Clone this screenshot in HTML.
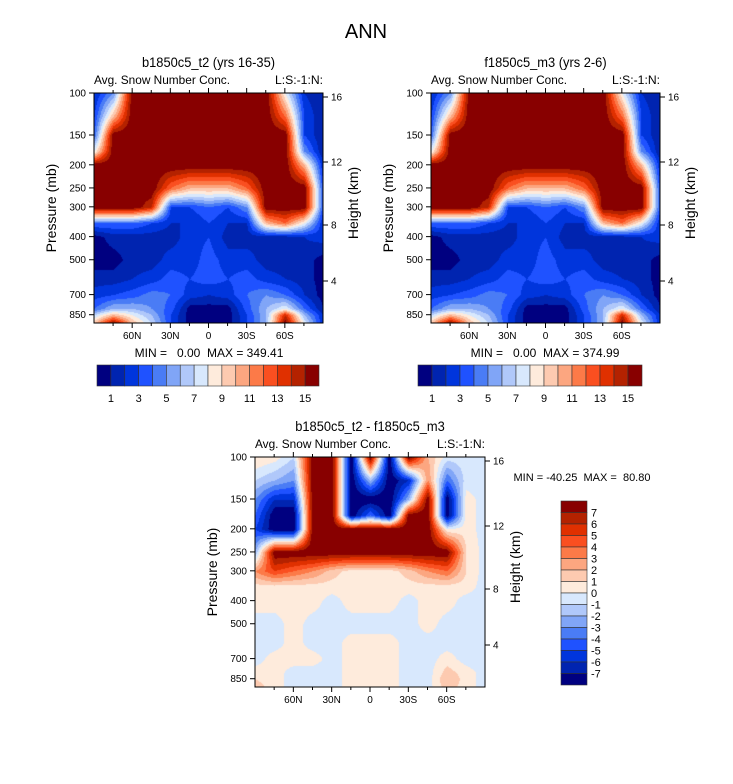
<!DOCTYPE html>
<html><head><meta charset="utf-8"><style>
body{margin:0;background:#fff;width:733px;height:784px;overflow:hidden;position:relative;font-family:"Liberation Sans",sans-serif}
canvas{position:absolute}
svg{position:absolute;left:0;top:0}
text{white-space:pre}
</style></head><body>
<canvas id="c1" style="left:94px;top:93px" width="229" height="230"></canvas>
<canvas id="c2" style="left:431px;top:93px" width="229" height="230"></canvas>
<canvas id="c3" style="left:255px;top:457px" width="230" height="230"></canvas>
<svg id="s" width="733" height="784"></svg>
<script>
const lats=[90,75,60,45,30,15,0,-15,-30,-45,-60,-75,-90];
const levels=[100,125,150,175,200,250,300,350,400,500,600,700,800,850,925];
const colors=['#000080','#0024b0','#0035dc','#1f52ff','#4a7cf5','#80a5f7','#b0c8fa','#d8e8fd','#feebdc','#fdcab0','#fca680','#fc7a48','#fa4f20','#e03000','#b42200','#880000'];
const p1=[
[2,5,16,16,16,16,16,16,16,16,8,2,1],
[3,10,16,16,16,16,16,16,16,16,12,3,1],
[4,16,16,16,16,16,16,16,16,16,16,3,1],
[8,16,16,16,16,16,16,16,16,16,16,5,1],
[16,16,16,16,16,16,16,16,16,16,16,10,2],
[16,16,16,16,12,10,10,10,12,16,16,16,3],
[16,16,16,14,3,3,4,3,5,16,16,16,3],
[4,4,4,3,2,2,3,2,2,10,12,8,2],
[0.5,1.5,1.5,1.5,1.5,2.5,3,1.5,1.5,1.5,1.5,2,2.5],
[0.5,0.5,1.5,1.5,2.5,2.5,3.5,2.5,2.5,1.5,1.5,1.5,0.5],
[1.5,1.5,2,2.5,3.5,3,3.5,3,3.5,2.5,2,1.5,0.5],
[2.5,3,3.5,4.5,4,2.5,2,2.5,4,5,4,2,0.5],
[4,6,6,5,3.5,0.5,0.5,0.5,3.5,6,8,4,1],
[7,10,8,6,3,0.5,0.5,0.5,3,6,14,6,2],
[10,16,10,7,3,0.5,0.5,0.5,3,6,16,8,2]];
const p2=[
[2,5,16,16,16,16,16,16,16,16,8,2,1],
[3,10,16,16,16,16,16,16,16,16,12,3,1],
[4,16,16,16,16,16,16,16,16,16,16,3,1],
[8,16,16,16,16,16,16,16,16,16,16,5,1],
[16,16,16,16,16,16,16,16,16,16,16,10,2],
[16,16,16,16,12,10,10,10,12,16,16,16,3],
[16,16,16,14,3,3,4,3,5,16,16,16,3],
[4,4,4,3,2,2,3,2,2,10,12,8,2],
[0.5,1.5,1.5,1.5,1.5,2.5,3,1.5,1.5,1.5,1.5,2,2.5],
[0.5,0.5,1.5,1.5,2.5,2.5,3.5,2.5,2.5,1.5,1.5,1.5,0.5],
[1.5,1.5,2,2.5,3.5,3,3.5,3,3.5,2.5,2,1.5,0.5],
[2.5,3,3.5,4.5,4,2.5,2,2.5,4,5,4,2,0.5],
[4,6,6,5,3.5,0.5,0.5,0.5,3.5,6,8,4,1],
[7,10,8,6,3,0.5,0.5,0.5,3,6,14,6,2],
[10,16,10,7,3,0.5,0.5,0.5,3,6,16,8,2]];
const p3=[
[1,0.5,-1,8,8,-8,8,-8,8,2,-0.5,-0.5,-0.5],
[-1,-2,-3,8,8,-8,-2,-8,-6,3,-4,-0.5,-0.5],
[-3,-6,-6,8,8,-8,-8,-8,-2,8,-8,0.5,-0.5],
[-4,-8,-8,8,8,-8,-4,-8,8,8,-8,0.5,-0.5],
[-5,-8,-8,8,8,8,8,8,8,8,0,0.5,-0.5],
[-2,8,8,8,8,8,8,8,8,8,8,1,-0.5],
[3,5,4,3,1.5,0.5,0.5,0.5,1.5,3,4,1,-0.5],
[0.5,0.5,0.5,0.5,0.5,0.5,0.5,0.5,0.5,0.5,0.5,0.5,-0.5],
[0.5,0.5,0.5,0.5,-0.5,0.5,0.5,0.5,-0.5,0.5,0.5,-0.5,-0.5],
[-0.5,-0.5,0.5,-0.5,-0.5,-0.5,-0.5,-0.5,-0.5,0.5,-0.5,-0.5,-0.5],
[-0.5,-0.5,0.5,-0.5,-0.5,0.5,0.5,0.5,-0.5,-0.5,-0.5,-0.5,-0.5],
[-0.5,0.5,0.5,0.5,-0.5,0.5,0.5,0.5,-0.5,-0.5,0.5,-0.5,-0.5],
[0.5,0.5,-0.5,-0.5,-0.5,0.5,0.5,0.5,-0.5,-0.5,1.5,0.5,-0.5],
[1,0.5,-0.5,-0.5,-0.5,0.5,0.5,0.5,-0.5,-0.5,2,0.5,-0.5],
[1.5,0.5,-0.5,-0.5,-0.5,0.5,0.5,0.5,-0.5,-0.5,1.5,0.5,-0.5]];
const pTicks=[100,150,200,250,300,400,500,700,850];
const latTicks=[60,30,0,-30,-60];
const latLabels=['60N','30N','0','30S','60S'];
const hTicks=[16,12,8,4];

const K=103.6;
function yOf(p){return K*Math.log(p/100);}
function xOf(lat,w){return (90-lat)/180*w;}
function hexRGB(h){return [parseInt(h.substr(1,2),16),parseInt(h.substr(3,2),16),parseInt(h.substr(5,2),16)];}
const rgb=colors.map(hexRGB);
function draw(id,data,offset){
  const c=document.getElementById(id),ctx=c.getContext('2d'),W=c.width,H=c.height;
  const img=ctx.createImageData(W,H);
  const ly=levels.map(yOf), lx=lats.map(l=>xOf(l,W));
  for(let y=0;y<H;y++){
    let j=0;while(j<ly.length-2&&ly[j+1]<y)j++;
    let ty=Math.min(1,Math.max(0,(y-ly[j])/(ly[j+1]-ly[j])));
    for(let x=0;x<W;x++){
      let i=0;while(i<lx.length-2&&lx[i+1]<x)i++;
      let tx=Math.min(1,Math.max(0,(x-lx[i])/(lx[i+1]-lx[i])));
      const v=(data[j][i]*(1-tx)+data[j][i+1]*tx)*(1-ty)+(data[j+1][i]*(1-tx)+data[j+1][i+1]*tx)*ty;
      let k=Math.floor(v+offset);k=Math.max(0,Math.min(15,k));
      const o=(y*W+x)*4;img.data[o]=rgb[k][0];img.data[o+1]=rgb[k][1];img.data[o+2]=rgb[k][2];img.data[o+3]=255;
    }
  }
  ctx.putImageData(img,0,0);
}
draw('c1',p1,0);draw('c2',p2,0);draw('c3',p3,8);

const S=document.getElementById('s');const NS='http://www.w3.org/2000/svg';
function el(t,a,txt){const e=document.createElementNS(NS,t);for(const k in a)e.setAttribute(k,a[k]);if(txt!==undefined)e.textContent=txt;S.appendChild(e);return e;}
function txt(x,y,s,size,anchor,name,extra){const e=el('text',Object.assign({x:x,y:y,'font-size':size,'text-anchor':anchor||'middle','font-family':'Liberation Sans, sans-serif'},extra||{}),s);

return e;}

txt(366,38,'ANN',20,'middle','main-title');

const hPos={16:97,12:162,8:225,4:281};
function hY(h){return hPos[h]-93;}
function panel(X,Y,W,H,title,pre){
  const cx=X+W/2;
  txt(cx,Y-26,title,14,'middle',pre+'-title',{transform:`translate(${cx},0) scale(0.92,1) translate(${-cx},0)`});
  txt(X,Y-9,'Avg. Snow Number Conc.',12,'start',pre+'-subtitle-left',{textLength:136,lengthAdjust:'spacingAndGlyphs'});
  txt(X+W,Y-9,'L:S:-1:N:',12,'end',pre+'-subtitle-right',{textLength:48,lengthAdjust:'spacingAndGlyphs'});
  const r=el('rect',{x:X,y:Y,width:W,height:H,fill:'none',stroke:'#000','stroke-width':1});
  
  
  pTicks.forEach(p=>{const y=Y+yOf(p);
    el('line',{x1:X-5,x2:X,y1:y,y2:y,stroke:'#000'});
    txt(X-8,y+3.5,String(p),10,'end',pre+'-ytick-'+p);});
  for(let lat=-75;lat<=75;lat+=15){const x=X+xOf(lat,W);const maj=lat%30===0;
    el('line',{x1:x,x2:x,y1:Y+H,y2:Y+H+(maj?5:3),stroke:'#000'});
    el('line',{x1:x,x2:x,y1:Y,y2:Y-(maj?5:3),stroke:'#000'});}
  latTicks.forEach((l,i)=>txt(X+xOf(l,W),Y+H+16,latLabels[i],10,'middle',pre+'-xtick-'+latLabels[i]));
  hTicks.forEach(h=>{const y=Y+hY(h);
    el('line',{x1:X+W,x2:X+W+5,y1:y,y2:y,stroke:'#000'});
    txt(X+W+8,y+3.5,String(h),10,'start',pre+'-htick-'+h);});
  txt(0,0,'Pressure (mb)',14,'middle',pre+'-y-axis-title',{transform:`translate(${X-38},${Y+H/2}) rotate(-90)`});
  txt(0,0,'Height (km)',14,'middle',pre+'-height-axis-title',{transform:`translate(${X+W+35},${Y+H/2-5}) rotate(-90)`});
}
panel(94,93,229,230,'b1850c5_t2 (yrs 16-35)','panel1');
panel(431,93,229,230,'f1850c5_m3 (yrs 2-6)','panel2');
panel(255,457,230,230,'b1850c5_t2 - f1850c5_m3','diff');
txt(209,357,'MIN =   0.00  MAX = 349.41',12,'middle','panel1-minmax');
txt(545,357,'MIN =   0.00  MAX = 374.99',12,'middle','panel2-minmax');
txt(582,481,'MIN = -40.25  MAX =  80.80',11,'middle','diff-minmax');

function hbar(X,Y,W,H,pre){const bw=W/16;
  colors.forEach((c,i)=>{const r=el('rect',{x:X+i*bw,y:Y,width:bw,height:H,fill:c,stroke:'#333','stroke-width':0.6});
    
    });
  for(let i=1;i<=15;i+=2)txt(X+i*bw,Y+H+16,String(i),11,'middle',pre+'-colorbar-label-'+i);}
hbar(97,365,222,21,'panel1');hbar(418,365,224,21,'panel2');
const vb={X:561,Y:501,W:26,H:184};const bh=vb.H/16;
colors.slice().reverse().forEach((c,i)=>{const r=el('rect',{x:vb.X,y:vb.Y+i*bh,width:vb.W,height:bh,fill:c,stroke:'#333','stroke-width':0.6});
  
  });
for(let i=1;i<=15;i++){const v=8-i;txt(vb.X+vb.W+4,vb.Y+i*bh+4,String(v),11,'start','diff-colorbar-label');}
</script>
</body></html>
